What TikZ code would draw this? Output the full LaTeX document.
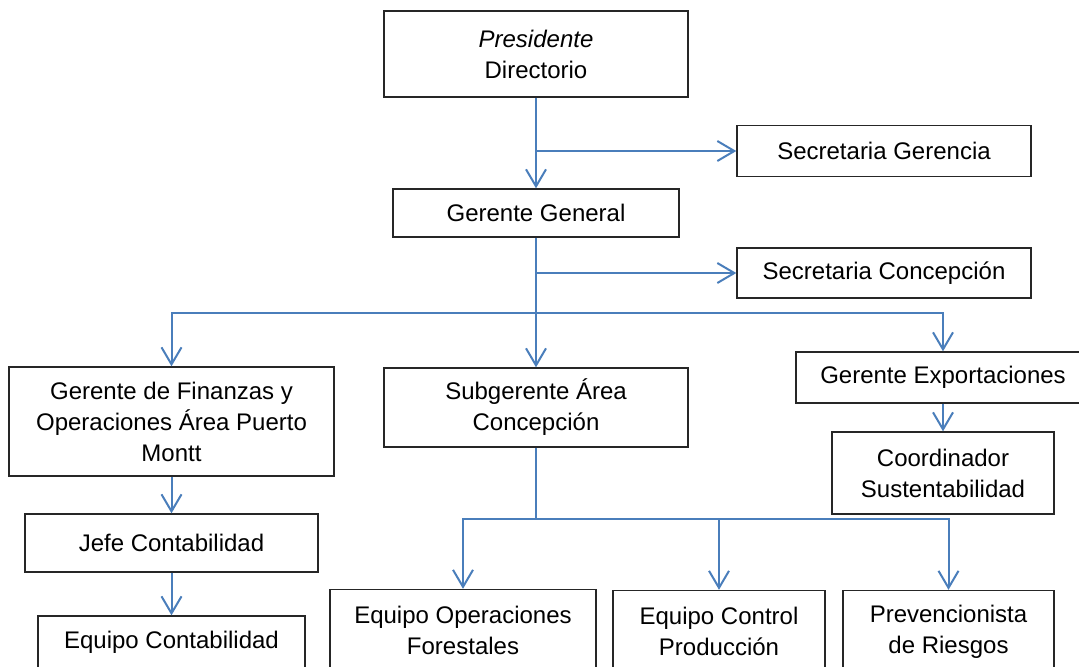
\documentclass[tikz,border=0pt]{standalone}
\usepackage{fontspec}
\setmainfont{Liberation Sans}
\usetikzlibrary{arrows.meta, positioning}
\definecolor{linkblue}{RGB}{74,126,187}
\tikzset{
  orgchart/.style={
	x=0.5pt, y=-0.5pt, % one unit is one pixel of the sketch, y runs down
	every node/.style={font=\fontsize{12}{15.5}\selectfont}, % Arial-like text
  },
  box/.style={draw=black!85, line width=0.7pt, align=center, inner sep=2pt}, % the boxes
  link/.style={draw=linkblue, line width=1pt, -{Straight Barb[length=8.5pt,width=10pt]}}, % open arrow heads
  bus/.style={draw=linkblue, line width=1pt}, % lines without a head
}
\begin{document}
\begin{tikzpicture}[orgchart]
	  \useasboundingbox (0,0) rectangle (1079,666);

	  \node[box, minimum width=152pt, minimum height=43pt] (dir) at (536,54) {\textit{Presidente}\\Directorio};
	  \node[box, minimum width=147pt, minimum height=25.5pt] (secg) at (884,151) {Secretaria Gerencia};
	  \node[box, minimum width=143pt, minimum height=24pt] (gg) at (536,213) {Gerente General};
	  \node[box, minimum width=147pt, minimum height=25pt] (secc) at (884,273) {Secretaria Concepción};
	  \node[box, minimum width=162.5pt, minimum height=54.5pt] (fin) at (171.5,421.5) {Gerente de Finanzas y\\Operaciones Área Puerto\\Montt};
	  \node[box, minimum width=152pt, minimum height=39.5pt] (sub) at (536,407.5) {Subgerente Área\\Concepción};
	  \node[box, minimum width=147pt, minimum height=25.5pt] (exp) at (943,377.5) {Gerente Exportaciones};
	  \node[box, minimum width=111pt, minimum height=41pt] (coord) at (943,473) {Coordinador\\Sustentabilidad};
	  \node[box, minimum width=146.5pt, minimum height=29pt] (jefe) at (171.5,543) {Jefe Contabilidad};
	  \node[box, minimum width=133.5pt, minimum height=26pt] (eqc) at (171.5,642) {Equipo Contabilidad};
	  \node[box, minimum width=133pt, minimum height=41pt] (oper) at (463,630.5) {Equipo Operaciones\\Forestales};
	  \node[box, minimum width=106pt, minimum height=41pt] (ctrl) at (719,631.5) {Equipo Control\\Producción};
	  \node[box, minimum width=105.5pt, minimum height=41pt] (prev) at (948.5,631.5) {Prevencionista\\de Riesgos};

	  % branch points
	  \coordinate (a) at (536,151);
	  \coordinate (b) at (536,273);
	  \coordinate (c) at (536,313);
	  \coordinate (d) at (536,519);

	  \draw[link] (dir) -- (gg);
	  \draw[link] (a) -- (secg);
	  \draw[bus] (gg) -- (c);
	  \draw[link] (b) -- (secc);
	  \draw[link] (c) -| (fin);
	  \draw[link] (c) -- (sub);
	  \draw[link] (c) -| (exp);
	  \draw[link] (exp) -- (coord);
	  \draw[link] (fin) -- (jefe);
	  \draw[link] (jefe) -- (eqc);
	  \draw[bus] (sub) -- (d);
	  \draw[link] (d) -| (oper);
	  \draw[link] (d) -| (ctrl);
	  \draw[link] (d) -| (prev);
\end{tikzpicture}
\end{document}
